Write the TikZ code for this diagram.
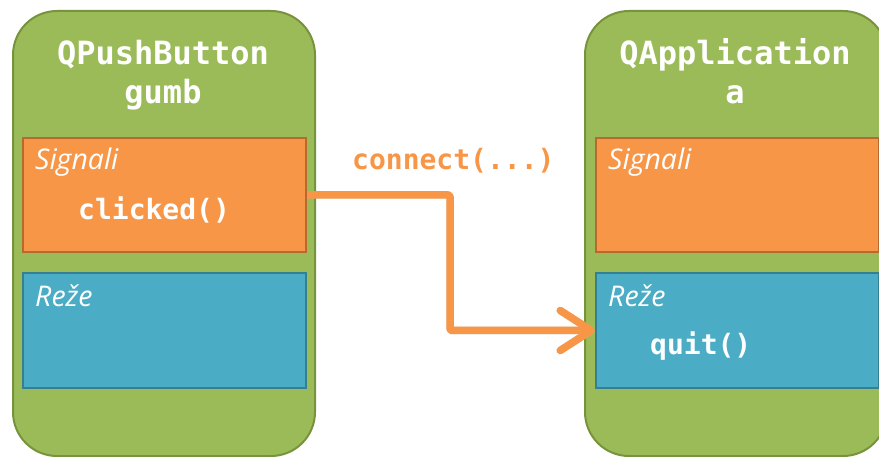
\documentclass[tikz,border=0pt]{standalone}
\usepackage{fontspec}
\usetikzlibrary{arrows.meta}
\newfontfamily\codefont{DejaVu Sans Mono}
\newfontfamily\labelfont{Open Sans}
\definecolor{objgreen}{HTML}{9BBB59}
\definecolor{objgreenedge}{HTML}{77933C}
\definecolor{sigorange}{HTML}{F79646}
\definecolor{sigorangeedge}{HTML}{B7692F}
\definecolor{slotblue}{HTML}{4BACC6}
\definecolor{slotblueedge}{HTML}{357F93}
\tikzset{
  objbox/.style={draw=objgreenedge, fill=objgreen, line width=2pt,
    rounded corners=44pt, minimum width=302pt, minimum height=445pt,
    inner sep=0pt, anchor=north west},
  sigbox/.style={draw=sigorangeedge, fill=sigorange, line width=2pt,
    minimum width=283pt, minimum height=114pt, inner sep=0pt, anchor=north west},
  slotbox/.style={draw=slotblueedge, fill=slotblue, line width=2pt,
    minimum width=283pt, minimum height=115pt, inner sep=0pt, anchor=north west},
  titletext/.style={text=white, font=\codefont\bfseries\fontsize{32}{38}\selectfont,
    anchor=base, inner sep=0pt},
  codetext/.style={text=white, font=\codefont\bfseries\fontsize{28}{34}\selectfont,
    anchor=base west, inner sep=0pt},
  sectiontext/.style={text=white, font=\labelfont\itshape\fontsize{28.5}{34}\selectfont,
    anchor=base west, inner sep=0pt},
  linkarrow/.style={draw=sigorange, line width=7.5pt, rounded corners=2pt,
    line join=round, -{Straight Barb[length=31pt,width=40pt,round]}},
}
\begin{document}
\begin{tikzpicture}[x=1pt, y=-1pt]
  \useasboundingbox (0,0) rectangle (879,457);
  \clip (0,0) rectangle (879,457);

  % sender object
  \node[objbox] (sender) at (12,10) {};
  \node[titletext] (sendername) at (163,65) {QPushButton};
  \node[titletext] (senderobj) at (163,104) {gumb};
  \node[sigbox] (lsig) at (22,137) {};
  \node[sectiontext] (lsiglabel) at (35,170) {Signali};
  \node[codetext] (clicked) at (78,220) {clicked()};
  \node[slotbox] (lslot) at (22,272) {};
  \node[sectiontext] (lslotlabel) at (35,307) {Reže};

  % receiver object
  \node[objbox] (receiver) at (584,10) {};
  \node[titletext] (receivername) at (735,65) {QApplication};
  \node[titletext] (receiverobj) at (735,104) {a};
  \node[sigbox] (rsig) at (595,137) {};
  \node[sectiontext] (rsiglabel) at (608,170) {Signali};
  \node[slotbox] (rslot) at (595,272) {};
  \node[sectiontext] (rslotlabel) at (608,307) {Reže};
  \node[codetext] (quit) at (650,355) {quit()};

  % signal-slot connection
  \node[text=sigorange, font=\codefont\bfseries\fontsize{28}{34}\selectfont,
    anchor=base west, inner sep=0pt] (connectlabel) at (352,170) {connect(...)};
  \coordinate (turn) at (450,0);
  \draw[linkarrow, draw=black!25, opacity=0.5, shift={(1.5pt,-1.5pt)}]
    (lsig.east) -| (turn |- rslot.west) -- (rslot.west);
  \draw[linkarrow] (lsig.east) -| (turn |- rslot.west) -- (rslot.west);
\end{tikzpicture}
\end{document}
